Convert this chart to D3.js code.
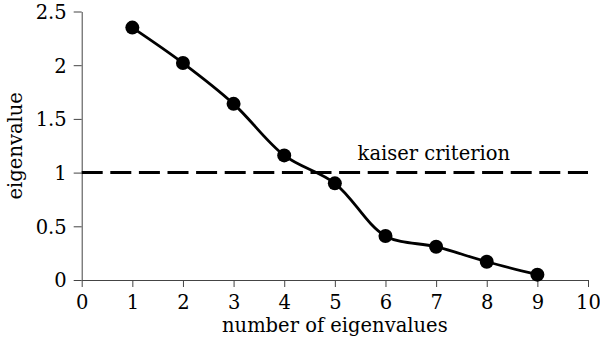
<!DOCTYPE html>
<html>
<head>
<meta charset="utf-8">
<script src="https://cdn.jsdelivr.net/npm/d3@7"></script>
<style>
  body { margin: 0; background: #fff; }
  text { font-family: "DejaVu Serif", serif; }
</style>
</head>
<body>
<div id="chart"></div>
<script>
// eigenvalue index and values
const components = [1, 2, 3, 4, 5, 6, 7, 8, 9];
const eigenvalues = [2.35, 2.02, 1.64, 1.16, 0.90, 0.41, 0.31, 0.17, 0.05];
const xTicks = [0, 1, 2, 3, 4, 5, 6, 7, 8, 9, 10];
const yTicks = [0, 0.5, 1, 1.5, 2, 2.5];
const kaiser = 1;

const W = 600, H = 338;
const margin = {top: 11.5, right: 12, bottom: 58, left: 81.7};
const fs = "19.5px";

const svg = d3.select("#chart").append("svg")
    .attr("width", W)
    .attr("height", H);

const g = svg.append("g")
    .attr("transform", `translate(${margin.left},${margin.top})`);

const w = W - margin.left - margin.right,
      h = H - margin.top - margin.bottom;

const x = d3.scaleLinear().domain([0, 10]).range([0, w]);
const y = d3.scaleLinear().domain([0, 2.5]).range([h, 0]);

// axes
const xAxis = g.append("g")
    .attr("transform", `translate(0,${h})`)
    .call(d3.axisBottom(x).tickValues(xTicks).tickFormat(d3.format("d")).tickSize(7).tickSizeOuter(0));
const yAxis = g.append("g")
    .call(d3.axisLeft(y).tickValues(yTicks).tickFormat(d => d).tickSize(8).tickSizeOuter(0));

[xAxis, yAxis].forEach(a => {
  a.select(".domain").attr("stroke", "#444").attr("stroke-width", 1);
  a.selectAll(".tick line").attr("stroke", "#444").attr("stroke-width", 1);
  a.selectAll("text")
    .attr("fill", "#000")
    .style("font-family", "DejaVu Serif, serif")
    .style("font-size", fs);
});
xAxis.selectAll("text").attr("dy", "0.71em").attr("y", 15);
yAxis.selectAll("text").attr("x", -15).attr("dy", "0.35em");

// kaiser criterion line
g.append("line")
    .attr("x1", x(0)).attr("x2", x(10))
    .attr("y1", y(kaiser)).attr("y2", y(kaiser))
    .attr("stroke", "#000")
    .attr("stroke-width", 3)
    .attr("stroke-dasharray", "21,7.6");

g.append("text")
    .attr("x", x(5.45))
    .attr("y", y(kaiser) - 12.5)
    .style("font-size", fs)
    .text("kaiser criterion");

// scree line
const pts = components.map((c, i) => ({c: c, v: eigenvalues[i]}));

g.append("path")
    .datum(pts)
    .attr("fill", "none")
    .attr("stroke", "#000")
    .attr("stroke-width", 2.8)
    .attr("d", d3.line()
        .x(d => x(d.c))
        .y(d => y(d.v))
        .curve(d3.curveCatmullRom));

g.append("g")
  .selectAll("circle")
  .data(pts)
  .join("circle")
    .attr("cx", d => x(d.c))
    .attr("cy", d => y(d.v))
    .attr("r", 7)
    .attr("fill", "#000");

// axis titles
g.append("text")
    .attr("x", x(5))
    .attr("y", h + 52)
    .attr("text-anchor", "middle")
    .style("font-size", fs)
    .text("number of eigenvalues");

g.append("text")
    .attr("transform", `translate(${-margin.left + 22},${h / 2}) rotate(-90)`)
    .attr("text-anchor", "middle")
    .style("font-size", fs)
    .text("eigenvalue");
</script>
</body>
</html>
